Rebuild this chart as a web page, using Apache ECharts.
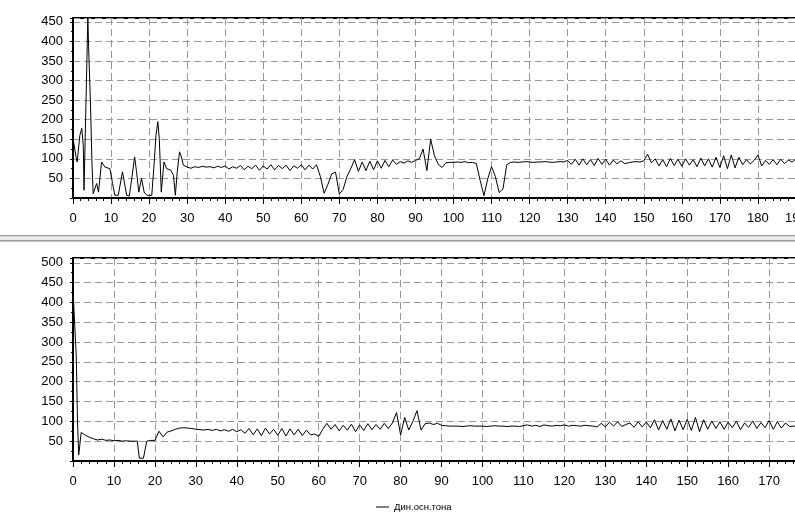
<!DOCTYPE html>
<html>
<head>
<meta charset="utf-8">
<script src="https://cdn.jsdelivr.net/npm/echarts@6/dist/echarts.min.js"></script>
<style>
html, body { margin: 0; padding: 0; background: #fff; }
#main { width: 795px; height: 515px; }
</style>
</head>
<body>
<div id="main"></div>
<script>
var seriesName = 'Дин.осн.тона';

// upper panel: irregular start as [x, y], then one value per unit from topStart
var topHead = [[0, 152], [0.8, 105], [1.1, 92], [1.8, 160], [2.3, 178], [2.7, 135], [2.9, 20], [3.4, 238],
    [3.9, 460], [4.1, 387], [4.3, 390], [4.6, 238], [5, 84], [5.3, 11], [6.2, 37], [6.7, 15], [7.5, 92], [8.4, 79],
    [9.7, 75], [10.4, 37], [11, 7], [11.9, 7], [13, 67], [14.1, 7], [14.8, 5], [15.5, 54], [16.2, 105],
    [16.7, 67], [17.3, 15], [18, 50], [18.7, 15], [19.4, 7], [20.7, 7], [21.3, 84], [21.8, 160], [22.3, 195],
    [22.7, 148], [23.2, 15], [23.9, 92], [24.6, 75], [25.7, 71], [26.4, 58], [26.9, 7], [27.4, 67],
    [28, 118], [28.5, 105], [29, 84]];
var topStart = 30;
var topTail = [
    79, 76, 80, 78, 81, 79, 80, 77, 81, 78,
    82, 74, 80, 76, 83, 72, 81, 75, 84, 71, 82, 74, 85, 72, 83, 75, 84, 70, 82, 76, 85, 72, 84, 74,
    85, 55, 12, 35, 62, 66, 10, 22, 55, 75, 98,
    68, 92, 70, 94, 72, 95, 76, 96, 80, 97, 86, 93, 89, 95, 91, 96,
    100, 125, 70, 150, 108, 86, 78, 90, 91, 91, 92, 91, 93, 90, 91, 88, 45, 6, 49, 80, 55, 14, 23, 85, 91,
    92, 91, 92, 93, 92, 91, 92, 92, 93, 92, 91, 92, 93, 92,
    96, 86, 99, 84, 100, 85, 98, 83, 101, 86, 99, 84, 97, 87, 95, 88,
    90, 92, 93, 92, 95,
    112, 90,
    100, 82, 98, 80, 101, 83, 99, 81, 100, 84, 98, 80, 102, 82, 100, 79, 104,
    78, 108, 75, 110, 77, 104,
    85, 98, 87, 96,
    110, 82, 96, 86, 98, 85, 99, 88, 97, 92, 100, 90, 98, 91, 99, 92
];

// lower panel
var bottomHead = [[0, 430], [0.4, 430], [0.8, 265], [1.1, 100], [1.4, 15], [2, 72], [3, 65], [4, 60],
    [5, 56], [6, 53], [7, 55], [8, 52], [9, 53], [10, 51], [11, 52], [12, 50], [13, 51], [14, 50], [15, 50],
    [15.7, 50], [16.2, 7], [17.2, 7], [18, 50], [19, 52], [20, 52]];
var bottomStart = 21;
var bottomTail = [
    75, 61, 73, 76, 80, 83, 84, 83, 82, 80,
    79, 78, 80, 77, 80, 76, 79, 75, 80, 74, 79,
    70, 82, 66, 81, 64, 83, 68, 80, 65, 82, 63, 81, 66, 80, 64, 78, 66, 68,
    62, 80, 95, 80,
    92, 76, 90, 78, 93, 74, 91, 77, 94, 79, 92, 80, 95, 82, 96,
    122, 66, 110, 78, 100, 127, 78, 94, 96, 92, 95, 90,
    89, 88, 88, 88, 87, 88, 89, 88, 88, 88, 87, 88, 89, 88, 88, 87, 88, 88, 87,
    89, 91, 88, 90, 87, 91, 89, 88, 90, 89, 91, 88, 90, 89, 88, 90, 89, 88, 86,
    95, 86, 98, 88, 99, 87, 92, 96, 85, 99, 86, 98,
    84, 104, 78, 102, 80, 106, 76, 103, 79, 105, 77, 110, 74, 104, 80, 101, 82,
    99, 80, 98, 84, 100, 79, 96, 85, 101, 82, 97, 84, 102, 80, 99, 83, 96, 87, 88,
    90, 88, 92, 87, 90, 89, 91, 88, 90
];

function build(head, start, tail) {
    return head.concat(tail.map(function (v, i) {
        return [start + i, v];
    }));
}

var font = 'Liberation Sans';
var gridLine = { show: true, lineStyle: { color: '#999', type: [7, 4], width: 1 } };

function xAx(idx) {
    return {
        type: 'value', gridIndex: idx, min: 0, max: 200, interval: 10,
        axisLine: { show: true, lineStyle: { color: '#000', width: 2 } },
        axisTick: { show: true, length: 6, lineStyle: { color: '#000' } },
        minorTick: { show: true, splitNumber: 5, length: 3, lineStyle: { color: '#000' } },
        axisLabel: { color: '#000', fontSize: 13, fontFamily: font, margin: 14 },
        splitLine: gridLine
    };
}

function yAx(idx, max) {
    return {
        type: 'value', gridIndex: idx, min: 0, max: max, interval: 50,
        axisLine: { show: true, lineStyle: { color: '#000', width: 2 } },
        axisTick: { show: true, length: 3, lineStyle: { color: '#000' } },
        minorTick: { show: true, splitNumber: 2, length: 2, lineStyle: { color: '#000' } },
        axisLabel: {
            color: '#000', fontSize: 13, fontFamily: font, margin: 10,
            formatter: function (v) { return (v > 0 && v % 50 === 0) ? v : ''; }
        },
        splitLine: gridLine
    };
}

var chart = echarts.init(document.getElementById('main'));
var option = {
    animation: false,
    backgroundColor: '#fff',
    grid: [
        { left: 73, top: 18, width: 761, height: 180, show: true, borderColor: '#000', borderWidth: 2, outerBoundsMode: 'none' },
        { left: 73, top: 258, width: 819, height: 203, show: true, borderColor: '#000', borderWidth: 2, outerBoundsMode: 'none' }
    ],
    xAxis: [xAx(0), xAx(1)],
    yAxis: [yAx(0, 460), yAx(1, 512)],
    legend: {
        data: [seriesName],
        left: 371, top: 497,
        icon: 'rect', itemWidth: 13, itemHeight: 1, itemGap: 5,
        textStyle: { color: '#000', fontSize: 9.5, fontFamily: font }
    },
    graphic: [
        { type: 'rect', shape: { x: 0, y: 235, width: 795, height: 1 }, style: { fill: '#9a9a9a' } },
        { type: 'rect', shape: { x: 0, y: 236, width: 795, height: 1 }, style: { fill: '#d6d6d6' } },
        { type: 'rect', shape: { x: 0, y: 237, width: 795, height: 3 }, style: { fill: '#ececec' } },
        { type: 'rect', shape: { x: 0, y: 240, width: 795, height: 1 }, style: { fill: '#9a9a9a' } },
        { type: 'rect', shape: { x: 0, y: 241, width: 795, height: 1 }, style: { fill: '#c4c4c4' } }
    ],
    series: [
        {
            name: seriesName, type: 'line', xAxisIndex: 0, yAxisIndex: 0,
            showSymbol: false, symbol: 'none',
            lineStyle: { color: '#000', width: 1 }, itemStyle: { color: '#000' },
            data: build(topHead, topStart, topTail)
        },
        {
            name: seriesName, type: 'line', xAxisIndex: 1, yAxisIndex: 1,
            showSymbol: false, symbol: 'none',
            lineStyle: { color: '#000', width: 1 }, itemStyle: { color: '#000' },
            data: build(bottomHead, bottomStart, bottomTail)
        }
    ]
};
chart.setOption(option);
</script>
</body>
</html>
